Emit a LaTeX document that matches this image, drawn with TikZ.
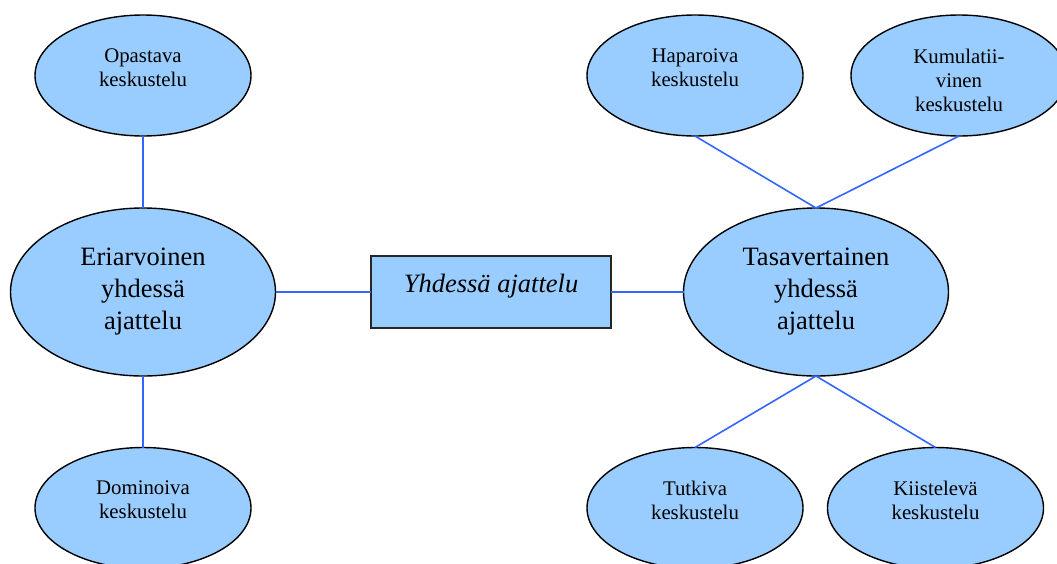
\documentclass[tikz,border=0pt]{standalone}
\usepackage{fontspec}
\setmainfont{Liberation Serif}
\usetikzlibrary{shapes.geometric,calc}
\definecolor{bubble}{HTML}{99CCFF}
\definecolor{link}{HTML}{3366FF}
\begin{document}
\begin{tikzpicture}[x=1pt,y=-1pt,
  oval/.style={ellipse, draw=black, line width=1.4pt, fill=bubble, inner sep=0pt, outer sep=0pt},
  smalloval/.style={oval, minimum width=216pt, minimum height=121pt},
  bigoval/.style={oval, minimum width=265pt, minimum height=168pt},
  smalltxt/.style={anchor=north, inner sep=0pt, align=center,
    font=\fontsize{20.8}{24}\selectfont, execute at begin node=\strut},
  bigtxt/.style={anchor=north, inner sep=0pt, align=center,
    font=\fontsize{26.5}{32}\selectfont, execute at begin node=\strut},
  centrebox/.style={rectangle, draw=black!85, line width=1.4pt, fill=bubble,
    minimum width=240pt, minimum height=72pt, inner sep=0pt, outer sep=0pt},
  link/.style={draw=link, line width=1.6pt}]
\useasboundingbox (0,0) rectangle (1057,563);
\clip (0,0) rectangle (1057,563);

% left branch
\node[smalloval] (opa) at (143,75.5) {};
\node[bigoval]   (eri) at (143,292) {};
\node[smalloval] (dom) at (143,508) {};

% centre
\node[centrebox] (yht) at (491,292) {};

% right branch
\node[smalloval] (hap) at (695,75.5) {};
\node[smalloval] (kum) at (959,75.5) {};
\node[bigoval]   (tas) at (816,292) {};
\node[smalloval] (tut) at (695,508) {};
\node[smalloval] (kii) at (935.5,508) {};

% connectors
\draw[link] (opa.south) -- (eri.north);
\draw[link] (eri.south) -- (dom.north);
\draw[link] (eri.east) -- (yht.west);
\draw[link] (yht.east) -- (tas.west);
\draw[link] (hap.south) -- (tas.north);
\draw[link] (kum.south) -- (tas.north);
\draw[link] (tas.south) -- (tut.north);
\draw[link] (tas.south) -- (kii.north);

% labels
\node[smalltxt] (opa-t) at ($(opa.north)+(0,33.5)$) {Opastava\\keskustelu};
\node[bigtxt]   (eri-t) at ($(eri.north)+(0,40)$) {Eriarvoinen\\yhdessä\\ajattelu};
\node[smalltxt] (dom-t) at ($(dom.north)+(0,33.5)$) {Dominoiva\\keskustelu};
\node[bigtxt]   (yht-t) at ($(yht.north)+(0,14.3)$) {\itshape Yhdessä ajattelu};
\node[smalltxt] (hap-t) at ($(hap.north)+(0,33.5)$) {Haparoiva\\keskustelu};
\node[smalltxt] (kum-t) at ($(kum.north)+(0,33.5)$) {Kumulatii-\\vinen\\keskustelu};
\node[bigtxt]   (tas-t) at ($(tas.north)+(0,40)$) {Tasavertainen\\yhdessä\\ajattelu};
\node[smalltxt] (tut-t) at ($(tut.north)+(0,33.5)$) {Tutkiva\\keskustelu};
\node[smalltxt] (kii-t) at ($(kii.north)+(0,33.5)$) {Kiistelevä\\keskustelu};
\end{tikzpicture}
\end{document}
